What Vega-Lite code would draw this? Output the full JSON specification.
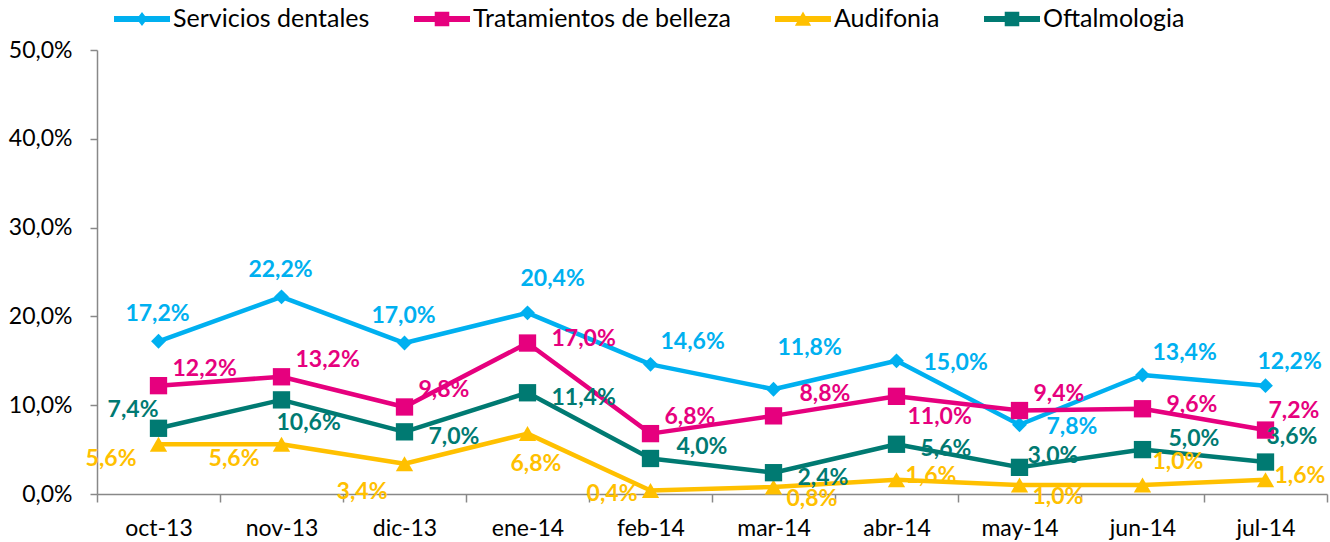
{
  "$schema": "https://vega.github.io/schema/vega-lite/v6.json",
  "autosize": {"type": "none"},
  "padding": {"left": 97, "top": 50, "right": 3, "bottom": 48},
  "width": 1230,
  "height": 444,
  "background": "white",
  "config": {
    "view": {"stroke": null},
    "locale": {"number": {"decimal": ",", "thousands": ".", "grouping": [3], "currency": ["", " €"]}},
    "font": "Lato"
  },
  "data": {"values": [
    {"m": "oct-13", "s": "Servicios dentales", "v": 0.172},
    {"m": "nov-13", "s": "Servicios dentales", "v": 0.222},
    {"m": "dic-13", "s": "Servicios dentales", "v": 0.170},
    {"m": "ene-14", "s": "Servicios dentales", "v": 0.204},
    {"m": "feb-14", "s": "Servicios dentales", "v": 0.146},
    {"m": "mar-14", "s": "Servicios dentales", "v": 0.118},
    {"m": "abr-14", "s": "Servicios dentales", "v": 0.150},
    {"m": "may-14", "s": "Servicios dentales", "v": 0.078},
    {"m": "jun-14", "s": "Servicios dentales", "v": 0.134},
    {"m": "jul-14", "s": "Servicios dentales", "v": 0.122},
    {"m": "oct-13", "s": "Tratamientos de belleza", "v": 0.122},
    {"m": "nov-13", "s": "Tratamientos de belleza", "v": 0.132},
    {"m": "dic-13", "s": "Tratamientos de belleza", "v": 0.098},
    {"m": "ene-14", "s": "Tratamientos de belleza", "v": 0.170},
    {"m": "feb-14", "s": "Tratamientos de belleza", "v": 0.068},
    {"m": "mar-14", "s": "Tratamientos de belleza", "v": 0.088},
    {"m": "abr-14", "s": "Tratamientos de belleza", "v": 0.110},
    {"m": "may-14", "s": "Tratamientos de belleza", "v": 0.094},
    {"m": "jun-14", "s": "Tratamientos de belleza", "v": 0.096},
    {"m": "jul-14", "s": "Tratamientos de belleza", "v": 0.072},
    {"m": "oct-13", "s": "Audifonia", "v": 0.056},
    {"m": "nov-13", "s": "Audifonia", "v": 0.056},
    {"m": "dic-13", "s": "Audifonia", "v": 0.034},
    {"m": "ene-14", "s": "Audifonia", "v": 0.068},
    {"m": "feb-14", "s": "Audifonia", "v": 0.004},
    {"m": "mar-14", "s": "Audifonia", "v": 0.008},
    {"m": "abr-14", "s": "Audifonia", "v": 0.016},
    {"m": "may-14", "s": "Audifonia", "v": 0.010},
    {"m": "jun-14", "s": "Audifonia", "v": 0.010},
    {"m": "jul-14", "s": "Audifonia", "v": 0.016},
    {"m": "oct-13", "s": "Oftalmologia", "v": 0.074},
    {"m": "nov-13", "s": "Oftalmologia", "v": 0.106},
    {"m": "dic-13", "s": "Oftalmologia", "v": 0.070},
    {"m": "ene-14", "s": "Oftalmologia", "v": 0.114},
    {"m": "feb-14", "s": "Oftalmologia", "v": 0.040},
    {"m": "mar-14", "s": "Oftalmologia", "v": 0.024},
    {"m": "abr-14", "s": "Oftalmologia", "v": 0.056},
    {"m": "may-14", "s": "Oftalmologia", "v": 0.030},
    {"m": "jun-14", "s": "Oftalmologia", "v": 0.050},
    {"m": "jul-14", "s": "Oftalmologia", "v": 0.036}
  ]},
  "encoding": {
    "x": {"field": "m", "type": "ordinal", "sort": null,
      "scale": {"type": "band", "paddingInner": 0, "paddingOuter": 0},
      "axis": {"title": null, "labelAngle": 0, "tickBand": "extent", "tickSize": 8, "labelPadding": 15,
        "domainColor": "#888888", "domainWidth": 1.5, "tickColor": "#888888", "tickWidth": 1.5,
        "labelFont": "Lato", "labelFontSize": 23, "labelColor": "#000000", "grid": false}},
    "y": {"field": "v", "type": "quantitative",
      "scale": {"domain": [0, 0.5], "nice": false, "zero": true},
      "axis": {"title": null, "format": ".1%", "values": [0, 0.1, 0.2, 0.3, 0.4, 0.5], "grid": false,
        "tickSize": 7, "labelPadding": 18, "domainColor": "#888888", "domainWidth": 1.5, "tickColor": "#888888", "tickWidth": 1.5,
        "labelFont": "Lato", "labelFontSize": 23, "labelColor": "#000000"}},
    "color": {"field": "s", "type": "nominal", "legend": null,
      "scale": {"domain": ["Servicios dentales", "Tratamientos de belleza", "Audifonia", "Oftalmologia"],
        "range": ["#00B0F0", "#E6007E", "#FFC000", "#007A72"]}}
  },
  "resolve": {"scale": {"shape": "independent", "fill": "independent"}},
  "layer": [
    {"mark": {"type": "line", "strokeWidth": 4.5, "strokeJoin": "round"}},
    {"transform": [{"filter": "datum.s=='Servicios dentales'"}],
      "mark": {"type": "point", "filled": true, "opacity": 1, "shape": "diamond", "size": 220}},
    {"transform": [{"filter": "datum.s!='Servicios dentales'"}],
      "mark": {"type": "point", "filled": true, "opacity": 1, "size": 300},
      "encoding": {"shape": {"field": "s", "type": "nominal", "legend": null,
        "scale": {"domain": ["Tratamientos de belleza", "Audifonia", "Oftalmologia"], "range": ["square", "triangle-up", "square"]}}}},

    {"transform": [{"filter": "datum.s=='Servicios dentales' && indexof(['oct-13','nov-13','dic-13'], datum.m)>=0"}],
      "mark": {"type": "text", "align": "center", "baseline": "middle", "dx": -1, "dy": -27, "font": "Lato", "fontSize": 23, "fontWeight": "bold"},
      "encoding": {"text": {"field": "v", "type": "quantitative", "format": ".1%"}}},
    {"transform": [{"filter": "datum.s=='Servicios dentales' && datum.m=='ene-14'"}],
      "mark": {"type": "text", "align": "left", "baseline": "middle", "dx": -7, "dy": -34, "font": "Lato", "fontSize": 23, "fontWeight": "bold"},
      "encoding": {"text": {"field": "v", "type": "quantitative", "format": ".1%"}}},
    {"transform": [{"filter": "datum.s=='Servicios dentales' && datum.m=='jul-14'"}],
      "mark": {"type": "text", "align": "left", "baseline": "middle", "dx": -8, "dy": -24, "font": "Lato", "fontSize": 23, "fontWeight": "bold"},
      "encoding": {"text": {"field": "v", "type": "quantitative", "format": ".1%"}}},
    {"transform": [{"filter": "datum.s=='Servicios dentales' && indexof(['feb-14','jun-14'], datum.m)>=0"}],
      "mark": {"type": "text", "align": "left", "baseline": "middle", "dx": 10, "dy": -22, "font": "Lato", "fontSize": 23, "fontWeight": "bold"},
      "encoding": {"text": {"field": "v", "type": "quantitative", "format": ".1%"}}},
    {"transform": [{"filter": "datum.s=='Servicios dentales' && datum.m=='mar-14'"}],
      "mark": {"type": "text", "align": "left", "baseline": "middle", "dx": 4, "dy": -41, "font": "Lato", "fontSize": 23, "fontWeight": "bold"},
      "encoding": {"text": {"field": "v", "type": "quantitative", "format": ".1%"}}},
    {"transform": [{"filter": "datum.s=='Servicios dentales' && indexof(['abr-14','may-14'], datum.m)>=0"}],
      "mark": {"type": "text", "align": "left", "baseline": "middle", "dx": 27, "dy": 2, "font": "Lato", "fontSize": 23, "fontWeight": "bold"},
      "encoding": {"text": {"field": "v", "type": "quantitative", "format": ".1%"}}},

    {"transform": [{"filter": "datum.s=='Tratamientos de belleza' && indexof(['oct-13','nov-13','dic-13','feb-14','may-14'], datum.m)>=0"}],
      "mark": {"type": "text", "align": "left", "baseline": "middle", "dx": 14, "dy": -17, "font": "Lato", "fontSize": 23, "fontWeight": "bold"},
      "encoding": {"text": {"field": "v", "type": "quantitative", "format": ".1%"}}},
    {"transform": [{"filter": "datum.s=='Tratamientos de belleza' && indexof(['ene-14','jun-14'], datum.m)>=0"}],
      "mark": {"type": "text", "align": "left", "baseline": "middle", "dx": 24, "dy": -4, "font": "Lato", "fontSize": 23, "fontWeight": "bold"},
      "encoding": {"text": {"field": "v", "type": "quantitative", "format": ".1%"}}},
    {"transform": [{"filter": "datum.s=='Tratamientos de belleza' && datum.m=='mar-14'"}],
      "mark": {"type": "text", "align": "left", "baseline": "middle", "dx": 26, "dy": -22, "font": "Lato", "fontSize": 23, "fontWeight": "bold"},
      "encoding": {"text": {"field": "v", "type": "quantitative", "format": ".1%"}}},
    {"transform": [{"filter": "datum.s=='Tratamientos de belleza' && datum.m=='abr-14'"}],
      "mark": {"type": "text", "align": "left", "baseline": "middle", "dx": 11, "dy": 21, "font": "Lato", "fontSize": 23, "fontWeight": "bold"},
      "encoding": {"text": {"field": "v", "type": "quantitative", "format": ".1%"}}},
    {"transform": [{"filter": "datum.s=='Tratamientos de belleza' && datum.m=='jul-14'"}],
      "mark": {"type": "text", "align": "left", "baseline": "middle", "dx": 3, "dy": -19, "font": "Lato", "fontSize": 23, "fontWeight": "bold"},
      "encoding": {"text": {"field": "v", "type": "quantitative", "format": ".1%"}}},

    {"transform": [{"filter": "datum.s=='Audifonia' && indexof(['oct-13','nov-13'], datum.m)>=0"}],
      "mark": {"type": "text", "align": "right", "baseline": "middle", "dx": -22, "dy": 15, "font": "Lato", "fontSize": 23, "fontWeight": "bold"},
      "encoding": {"text": {"field": "v", "type": "quantitative", "format": ".1%"}}},
    {"transform": [{"filter": "datum.s=='Audifonia' && datum.m=='dic-13'"}],
      "mark": {"type": "text", "align": "right", "baseline": "middle", "dx": -17, "dy": 28, "font": "Lato", "fontSize": 23, "fontWeight": "bold"},
      "encoding": {"text": {"field": "v", "type": "quantitative", "format": ".1%"}}},
    {"transform": [{"filter": "datum.s=='Audifonia' && datum.m=='feb-14'"}],
      "mark": {"type": "text", "align": "right", "baseline": "middle", "dx": -13, "dy": 4, "font": "Lato", "fontSize": 23, "fontWeight": "bold"},
      "encoding": {"text": {"field": "v", "type": "quantitative", "format": ".1%"}}},
    {"transform": [{"filter": "datum.s=='Audifonia' && datum.m=='ene-14'"}],
      "mark": {"type": "text", "align": "left", "baseline": "middle", "dx": -17, "dy": 30, "font": "Lato", "fontSize": 23, "fontWeight": "bold"},
      "encoding": {"text": {"field": "v", "type": "quantitative", "format": ".1%"}}},
    {"transform": [{"filter": "datum.s=='Audifonia' && indexof(['mar-14','may-14'], datum.m)>=0"}],
      "mark": {"type": "text", "align": "left", "baseline": "middle", "dx": 13, "dy": 12, "font": "Lato", "fontSize": 23, "fontWeight": "bold"},
      "encoding": {"text": {"field": "v", "type": "quantitative", "format": ".1%"}}},
    {"transform": [{"filter": "datum.s=='Audifonia' && indexof(['abr-14','jul-14'], datum.m)>=0"}],
      "mark": {"type": "text", "align": "left", "baseline": "middle", "dx": 9, "dy": -4, "font": "Lato", "fontSize": 23, "fontWeight": "bold"},
      "encoding": {"text": {"field": "v", "type": "quantitative", "format": ".1%"}}},
    {"transform": [{"filter": "datum.s=='Audifonia' && datum.m=='jun-14'"}],
      "mark": {"type": "text", "align": "left", "baseline": "middle", "dx": 10, "dy": -23, "font": "Lato", "fontSize": 23, "fontWeight": "bold"},
      "encoding": {"text": {"field": "v", "type": "quantitative", "format": ".1%"}}},

    {"transform": [{"filter": "datum.s=='Oftalmologia' && datum.m=='oct-13'"}],
      "mark": {"type": "text", "align": "right", "baseline": "middle", "dx": 0, "dy": -18, "font": "Lato", "fontSize": 23, "fontWeight": "bold"},
      "encoding": {"text": {"field": "v", "type": "quantitative", "format": ".1%"}}},
    {"transform": [{"filter": "datum.s=='Oftalmologia' && datum.m=='nov-13'"}],
      "mark": {"type": "text", "align": "left", "baseline": "middle", "dx": -5, "dy": 23, "font": "Lato", "fontSize": 23, "fontWeight": "bold"},
      "encoding": {"text": {"field": "v", "type": "quantitative", "format": ".1%"}}},
    {"transform": [{"filter": "datum.s=='Oftalmologia' && indexof(['dic-13','ene-14','mar-14','abr-14'], datum.m)>=0"}],
      "mark": {"type": "text", "align": "left", "baseline": "middle", "dx": 24, "dy": 5, "font": "Lato", "fontSize": 23, "fontWeight": "bold"},
      "encoding": {"text": {"field": "v", "type": "quantitative", "format": ".1%"}}},
    {"transform": [{"filter": "datum.s=='Oftalmologia' && indexof(['feb-14','jun-14'], datum.m)>=0"}],
      "mark": {"type": "text", "align": "left", "baseline": "middle", "dx": 26, "dy": -11, "font": "Lato", "fontSize": 23, "fontWeight": "bold"},
      "encoding": {"text": {"field": "v", "type": "quantitative", "format": ".1%"}}},
    {"transform": [{"filter": "datum.s=='Oftalmologia' && datum.m=='may-14'"}],
      "mark": {"type": "text", "align": "left", "baseline": "middle", "dx": 8, "dy": -11, "font": "Lato", "fontSize": 23, "fontWeight": "bold"},
      "encoding": {"text": {"field": "v", "type": "quantitative", "format": ".1%"}}},
    {"transform": [{"filter": "datum.s=='Oftalmologia' && datum.m=='jul-14'"}],
      "mark": {"type": "text", "align": "left", "baseline": "middle", "dx": 1, "dy": -25, "font": "Lato", "fontSize": 23, "fontWeight": "bold"},
      "encoding": {"text": {"field": "v", "type": "quantitative", "format": ".1%"}}},

    {"mark": {"type": "point", "filled": true, "opacity": 0},
      "encoding": {
        "fill": {"field": "s", "type": "nominal",
          "scale": {"domain": ["Servicios dentales", "Tratamientos de belleza", "Audifonia", "Oftalmologia"],
            "range": ["#00B0F0", "#E6007E", "#FFC000", "#007A72"]},
          "legend": {"orient": "none", "legendX": 17, "legendY": -59, "direction": "horizontal", "title": null,
            "symbolSize": 3136, "symbolStrokeWidth": 0, "symbolOpacity": 1, "labelFont": "Lato", "labelFontSize": 25,
            "labelColor": "#000000", "labelOffset": 3, "columnPadding": 44, "labelLimit": 400}},
        "shape": {"field": "s", "type": "nominal",
          "scale": {"domain": ["Servicios dentales", "Tratamientos de belleza", "Audifonia", "Oftalmologia"],
            "range": [
              "M-1,-0.11H1V0.11H-1ZM0,-0.25L0.19,0L0,0.25L-0.19,0Z",
              "M-1,-0.11H1V0.11H-1ZM-0.26,-0.26H0.26V0.26H-0.26Z",
              "M-1,-0.11H1V0.11H-1ZM0,-0.27L0.29,0.24H-0.29Z",
              "M-1,-0.11H1V0.11H-1ZM-0.26,-0.26H0.26V0.26H-0.26Z"]},
          "legend": {"orient": "none", "legendX": 17, "legendY": -59, "direction": "horizontal", "title": null,
            "symbolSize": 3136, "symbolStrokeWidth": 0, "symbolOpacity": 1, "labelFont": "Lato", "labelFontSize": 25,
            "labelColor": "#000000", "labelOffset": 3, "columnPadding": 44, "labelLimit": 400}}
      }}
  ]
}
